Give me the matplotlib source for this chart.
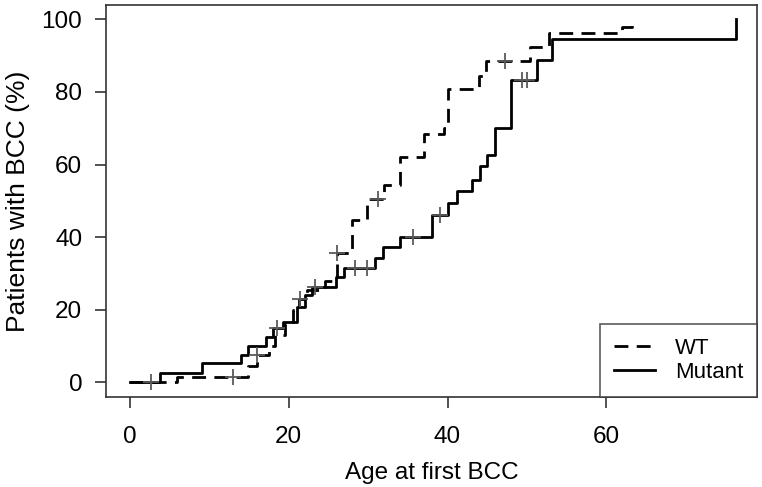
# Cumulative incidence of first BCC by age, WT vs Mutant (step curves, R-like look)
import numpy as np
import matplotlib
matplotlib.use("Agg")
import matplotlib.pyplot as plt

plt.rcParams['font.family'] = ['Liberation Sans', 'DejaVu Sans']

# step points (age, % with BCC after the step)
wt_age = [0, 5.9, 14.8, 16.0, 17.5, 18.3, 19.5, 20.5, 21.3, 22.3, 24.5, 26.1, 28.0,
          29.9, 32.0, 34.0, 37.0, 39.5, 40.1, 43.9, 44.8, 50.4, 52.8, 62.0, 63.2]
wt_pct = [0, 1.5, 4.6, 7.5, 10.0, 13.0, 16.0, 20.0, 23.0, 25.5, 28.0, 35.6, 44.8,
          50.5, 54.4, 62.2, 68.4, 70.0, 80.7, 84.5, 88.4, 92.3, 96.3, 97.8, 100]

mut_age = [0, 3.8, 9.1, 14.0, 14.9, 17.1, 18.0, 19.3, 21.0, 22.0, 22.9, 26.0, 26.9,
           30.9, 31.9, 34.0, 38.0, 40.1, 41.2, 43.1, 44.1, 45.0, 46.0, 48.0, 51.3,
           53.2, 76.3]
mut_pct = [0, 2.7, 5.4, 7.5, 10.0, 12.5, 15.0, 16.5, 20.8, 24.0, 26.3, 29.0, 31.4,
           34.2, 37.2, 40.0, 46.1, 49.3, 52.6, 55.8, 59.5, 62.7, 70.1, 83.4, 88.9,
           94.5, 100]

# censored observations (age)
wt_cens = [13.0, 16.0, 21.4, 26.1, 31.3, 47.3]
mut_cens = [2.6, 18.5, 23.3, 28.4, 29.8, 35.7, 39.1, 49.4, 50.0]


def step_value(ages, pcts, t):
    idx = np.searchsorted(ages, t, side='right') - 1
    return np.asarray(pcts)[idx]


fig = plt.figure(figsize=(7.62, 4.87), dpi=100)
ax = fig.add_axes([0.139, 0.185, 0.855, 0.805])

ax.step(wt_age, wt_pct, where='post', color='black', lw=2.0,
        linestyle=(0, (5, 3)), label='WT')
ax.step(mut_age, mut_pct, where='post', color='black', lw=2.0,
        linestyle='-', label='Mutant')

ax.plot(wt_cens, step_value(wt_age, wt_pct, wt_cens), '+', color='#5a5a5a',
        ms=11, mew=1.3)
ax.plot(mut_cens, step_value(mut_age, mut_pct, mut_cens), '+', color='#5a5a5a',
        ms=11, mew=1.3)

ax.set_xlim(-3.04, 79.04)
ax.set_ylim(-4, 104)
ax.set_xticks([0, 20, 40, 60])
ax.set_yticks([0, 20, 40, 60, 80, 100])
ax.tick_params(axis='both', direction='out', length=8, width=1.2,
               labelsize=17.5, color='#333333')
ax.tick_params(axis='x', pad=13)
ax.tick_params(axis='y', pad=9)
for s in ax.spines.values():
    s.set_linewidth(1.2)
    s.set_color('#333333')

ax.set_xlabel('Age at first BCC', fontsize=17.5, labelpad=10)
ax.set_ylabel('Patients with BCC (%)', fontsize=19, labelpad=8)

leg = ax.legend(loc='lower right', fontsize=16, frameon=True, fancybox=False,
                borderaxespad=0, handlelength=1.85, borderpad=0.62,
                labelspacing=0.15, handletextpad=0.9)
leg.get_frame().set_edgecolor('#333333')
leg.get_frame().set_linewidth(1.2)

fig.savefig('out.png', dpi=100)
